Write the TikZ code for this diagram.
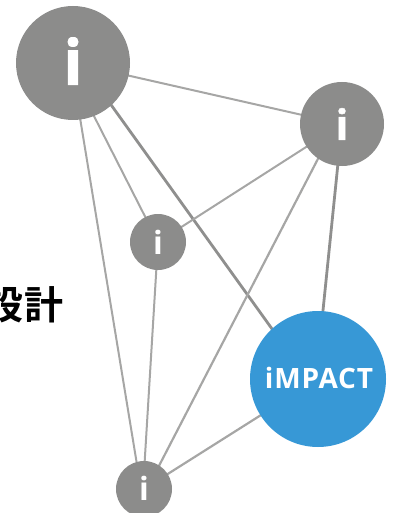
\documentclass[tikz,border=0pt]{standalone}
\usepackage{fontspec}
\usetikzlibrary{backgrounds}
\setmainfont{Open Sans}
\newfontfamily\cjk{Noto Sans CJK JP}[BoldFont={* Bold}]
\definecolor{hub}{HTML}{8C8C8B}
\definecolor{impactblue}{HTML}{3798D6}
\definecolor{linka}{HTML}{A6A6A5}
\definecolor{linkb}{HTML}{8F8F8E}
\tikzset{
  every node/.style={inner sep=0pt,outer sep=0pt},
  hubdot/.style={circle,fill=hub,draw=none},
  link/.style={line width=2pt,draw=linka},
  linkmid/.style={line width=2.2pt,draw=linka},
  linkheavy/.style={line width=2.8pt,draw=linkb},
  glyph/.style={text=white,font=\bfseries\fontsize{#1}{#1}\selectfont},
}
\begin{document}
\begin{tikzpicture}[x=1pt,y=-1pt]
\useasboundingbox (0,0) rectangle (393,513);
\clip (0,0) rectangle (393,513);
\node[hubdot,minimum size=114pt] (big) at (73,63) {};
\node[hubdot,minimum size=84pt] (right) at (342,124) {};
\node[hubdot,minimum size=56pt] (mid) at (158,242) {};
\node[hubdot,minimum size=56pt] (bot) at (144,489) {};
\node[circle,fill=impactblue,minimum size=136pt] (imp) at (318,379) {};
\begin{scope}[on background layer]
\draw[link] (big.center) -- (right.center);
\draw[link] ([xshift=-6pt]big.center) -- (mid.center);
\draw[link] ([xshift=-2pt]big.center) -- ([xshift=-3pt]bot.center);
\draw[linkheavy] ([xshift=8pt]big.center) -- ([xshift=-10pt]imp.center);
\draw[link] (right.center) -- (mid.center);
\draw[linkmid] ([xshift=-6pt]right.center) -- ([xshift=3pt]bot.center);
\draw[linkheavy] (right.center) -- ([xshift=-2pt]imp.center);
\draw[link] (mid.center) -- ([xshift=-1pt]bot.center);
\draw[linkmid] (imp.center) -- (bot.center);
\end{scope}
\node[glyph=62] (il) at (73,61) {\addfontfeature{FakeBold=1.5}i};
\node[glyph=42] (ir) at (342,124) {\addfontfeature{FakeBold=1}i};
\node[glyph=32] (im) at (158,242) {i};
\node[glyph=32] (ib) at (144,488) {i};
\node[glyph=28] (it) at (319,378) {\addfontfeature{LetterSpace=3}iMPACT};
\node[anchor=east,font=\cjk\bfseries\fontsize{39}{39}\selectfont,text=black] (lab) at (63,305) {設計};
\end{tikzpicture}
\end{document}
